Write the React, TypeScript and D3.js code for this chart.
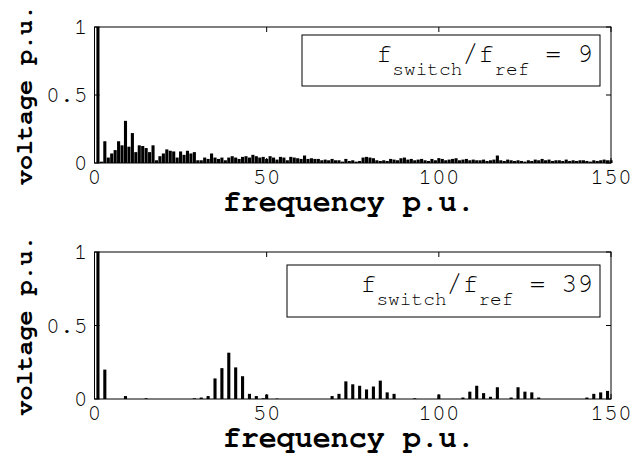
import * as d3 from "d3";

// harmonic order 0..150, amplitude in p.u.
const spectrum9 = [
  0, 1.0, 0.01, 0.16, 0.04, 0.07, 0.095, 0.16, 0.13, 0.31,
  0.12, 0.22, 0.08, 0.13, 0.125, 0.11, 0.08, 0.13, 0.02, 0.05,
  0.07, 0.1, 0.09, 0.085, 0.04, 0.085, 0.06, 0.09, 0.07, 0.08,
  0.02, 0.02, 0.04, 0.03, 0.07, 0.04, 0.03, 0.04, 0.02, 0.04,
  0.05, 0.04, 0.03, 0.045, 0.05, 0.04, 0.06, 0.05, 0.04, 0.045,
  0.03, 0.05, 0.04, 0.025, 0.045, 0.04, 0.02, 0.045, 0.04, 0.035,
  0.03, 0.055, 0.03, 0.035, 0.03, 0.03, 0.02, 0.025, 0.02, 0.03,
  0.02, 0.02, 0.01, 0.03, 0.015, 0.02, 0.01, 0.015, 0.04, 0.045,
  0.04, 0.035, 0.02, 0.015, 0.02, 0.015, 0.03, 0.025, 0.02, 0.035,
  0.04, 0.025, 0.03, 0.02, 0.025, 0.03, 0.02, 0.015, 0.03, 0.02,
  0.035, 0.03, 0.02, 0.025, 0.03, 0.035, 0.02, 0.025, 0.03, 0.02,
  0.025, 0.02, 0.02, 0.025, 0.015, 0.02, 0.025, 0.055, 0.02, 0.015,
  0.025, 0.02, 0.015, 0.02, 0.015, 0.01, 0.02, 0.015, 0.025, 0.02,
  0.03, 0.02, 0.025, 0.015, 0.02, 0.02, 0.015, 0.025, 0.015, 0.02,
  0.015, 0.02, 0.02, 0.015, 0.01, 0.02, 0.015, 0.02, 0.025, 0.02,
  0.02,
];

const spectrum39: number[] = [
  0, 1.0, 0, 0.2, 0, 0, 0, 0, 0, 0.02,
  0, 0, 0, 0, 0, 0.005, 0, 0, 0, 0,
  0, 0, 0, 0, 0, 0, 0, 0, 0, 0.005,
  0, 0.01, 0, 0.02, 0, 0.14, 0, 0.21, 0, 0.315,
  0, 0.215, 0, 0.155, 0, 0.035, 0, 0.02, 0, 0.005,
  0.03, 0, 0, 0.003, 0, 0, 0, 0, 0, 0,
  0, 0, 0, 0, 0, 0, 0, 0, 0, 0.02,
  0, 0.035, 0, 0.12, 0, 0.1, 0, 0.09, 0, 0.065,
  0, 0.085, 0, 0.125, 0, 0.045, 0, 0.035, 0, 0,
  0, 0, 0, 0.005, 0, 0, 0, 0, 0, 0,
  0.03, 0, 0, 0, 0, 0, 0, 0.01, 0, 0.05,
  0, 0.09, 0, 0.04, 0, 0.015, 0, 0.08, 0, 0,
  0, 0.01, 0, 0.08, 0, 0.05, 0, 0.045, 0, 0.01,
  0, 0, 0, 0, 0, 0, 0, 0, 0, 0,
  0, 0, 0, 0.01, 0, 0.035, 0, 0.045, 0, 0.055,
  0,
];

const xTicks = [0, 50, 100, 150];
const yTicks = [0, 0.5, 1];
const ratios = ["9", "39"];

const mono = "FreeMono, 'Courier New', monospace";

type PanelProps = {
  values: number[];
  ratio: string;
  top: number;
  bottom: number;
  legend: { x: number; y: number; w: number; h: number };
};

const Panel = ({ values, ratio, top, bottom, legend }: PanelProps) => {
  const x = d3.scaleLinear().domain([0, 150]).range([94.5, 611]);
  const y = d3.scaleLinear().domain([0, 1]).range([bottom, top]);
  const bw = x(0.9) - x(0);
  const left = x(0), right = x(150);
  const tickFont = { fontFamily: mono, fontSize: 23 };
  const labelFont = { fontFamily: mono, fontWeight: 700 };

  return (
    <g>
      {values.map((v, i) => {
        if (v <= 0) return null;
        const x0 = Math.max(left, x(i) - bw / 2);
        return <rect key={i} x={x0} y={y(v)} width={x(i) + bw / 2 - x0} height={y(0) - y(v)} fill="#000" />;
      })}
      <rect x={left} y={top} width={right - left} height={bottom - top} fill="none" stroke="#000" strokeWidth={1} />
      {xTicks.map((t) => (
        <g key={t}>
          <line x1={x(t)} x2={x(t)} y1={bottom} y2={bottom - 5} stroke="#000" />
          <line x1={x(t)} x2={x(t)} y1={top} y2={top + 5} stroke="#000" />
          <text x={x(t)} y={bottom + 21} textAnchor="middle" style={tickFont} fill="#000">
            {t}
          </text>
        </g>
      ))}
      {yTicks.map((t) => (
        <g key={t}>
          <line x1={left} x2={left + 5} y1={y(t)} y2={y(t)} stroke="#000" />
          <line x1={right} x2={right - 5} y1={y(t)} y2={y(t)} stroke="#000" />
          <text x={left - 7} y={y(t) + 7} textAnchor="end" style={tickFont} fill="#000">
            {t}
          </text>
        </g>
      ))}
      <text x={(left + right) / 2 - 4} y={bottom + 48} textAnchor="middle" style={{ ...labelFont, fontSize: 30 }} fill="#000">
        frequency p.u.
      </text>
      <text
        transform={`translate(32,${(top + bottom) / 2}) rotate(-90)`}
        textAnchor="middle"
        style={{ ...labelFont, fontSize: 25 }}
        fill="#000"
      >
        voltage p.u.
      </text>
      <rect x={legend.x} y={legend.y} width={legend.w} height={legend.h} fill="#fff" stroke="#000" />
      <text x={legend.x + legend.w - 7} y={legend.y + 27} textAnchor="end" style={{ fontFamily: mono, fontSize: 26.5 }} fill="#000">
        <tspan>f</tspan>
        <tspan style={{ fontSize: 19.5 }} dy={13}>switch</tspan>
        <tspan dy={-13}>/f</tspan>
        <tspan style={{ fontSize: 19.5 }} dy={13}>ref</tspan>
        <tspan dy={-13}>{" = " + ratio}</tspan>
      </text>
    </g>
  );
};

export default function App() {
  return (
    <svg width={634} height={464} style={{ display: "block", position: "absolute", left: 0, top: 0 }}>
      <rect width={634} height={464} fill="#fff" />
      <Panel values={spectrum9} ratio={ratios[0]} top={27} bottom={163} legend={{ x: 302, y: 35, w: 298, h: 51 }} />
      <Panel values={spectrum39} ratio={ratios[1]} top={252} bottom={399} legend={{ x: 287, y: 265, w: 313, h: 52 }} />
    </svg>
  );
}
